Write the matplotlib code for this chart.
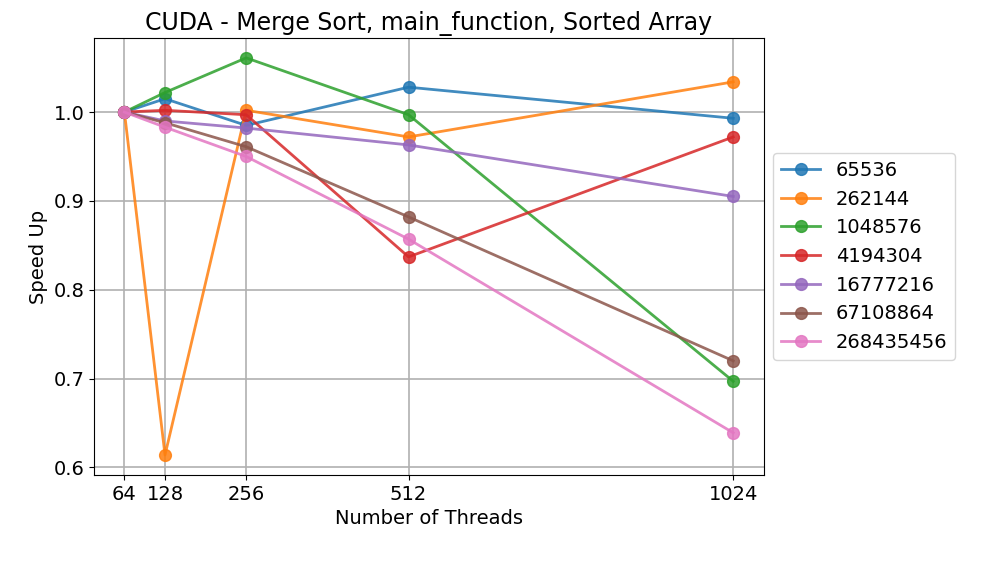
import matplotlib.pyplot as plt

threads = [64, 128, 256, 512, 1024]
sizes = ["65536", "262144", "1048576", "4194304", "16777216", "67108864", "268435456"]
speedups = {
    "65536":     [1.0, 1.015, 0.985, 1.028, 0.993],
    "262144":    [1.0, 0.614, 1.002, 0.972, 1.034],
    "1048576":   [1.0, 1.022, 1.061, 0.997, 0.697],
    "4194304":   [1.0, 1.002, 0.997, 0.837, 0.972],
    "16777216":  [1.0, 0.990, 0.982, 0.963, 0.905],
    "67108864":  [1.0, 0.988, 0.961, 0.882, 0.720],
    "268435456": [1.0, 0.983, 0.950, 0.857, 0.639],
}

fig = plt.figure(figsize=(9.82, 5.64), dpi=100)
ax = fig.add_axes([0.0957, 0.158, 0.682, 0.7746])
for s in sizes:
    ax.plot(threads, speedups[s], marker='o', label=s, linewidth=2, markersize=8.5, alpha=0.85)
ax.set_xticks(threads)
ax.set_title('CUDA - Merge Sort, main_function, Sorted Array', fontsize=17)
ax.set_xlabel('Number of Threads', fontsize=14)
ax.set_ylabel('Speed Up', fontsize=14)
ax.tick_params(labelsize=14)
ax.grid(True, linewidth=1.2)
ax.legend(loc='center left', bbox_to_anchor=(1.0, 0.5), fontsize=14)
fig.savefig('out.png', dpi=100)
